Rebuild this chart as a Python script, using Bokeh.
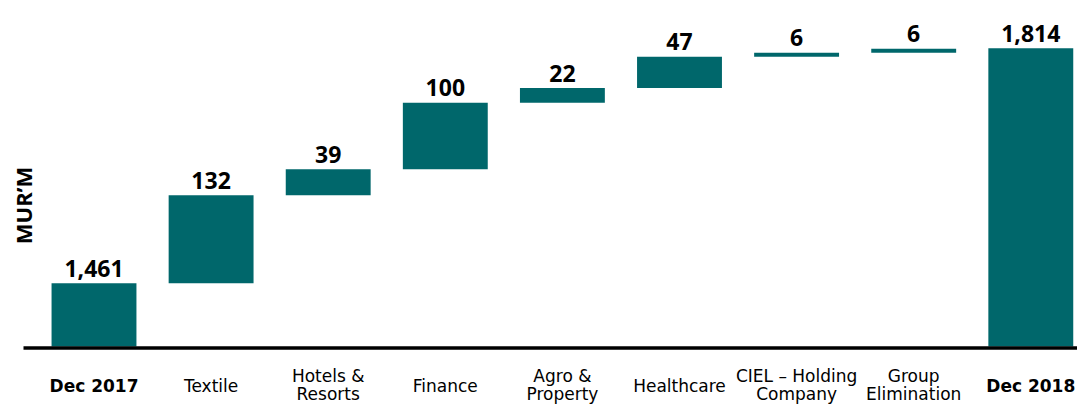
from bokeh.plotting import figure
from bokeh.models import ColumnDataSource, Range1d
from bokeh.core.properties import value
from bokeh.embed import file_html
from bokeh.resources import INLINE
import math

# ---- data ----
categories = ["Dec 2017", "Textile", "Hotels &\nResorts", "Finance", "Agro &\nProperty",
              "Healthcare", "CIEL – Holding\nCompany", "Group\nElimination", "Dec 2018"]
values = [1461, 132, 39, 100, 22, 47, 6, 6, 1814]
is_total = [True, False, False, False, False, False, False, False, True]
y_axis_title = "MUR’M"

# ---- layout helpers (pixel mapping of the reference) ----
W, H = 1077, 408
Y_BASE = 1366.0          # value at which the axis line sits
PY = 0.666               # px per unit
PX = 117.1               # px per category
X0 = 93.5                # x of first category centre (px)
AXIS_Y = 346.0           # px from top where bars start
TEXT_SHIFT = 7.0         # compensation for text baseline placement (px)
x_start = -X0 / PX
x_end = x_start + W / PX
y_end = Y_BASE + AXIS_Y / PY
y_start = Y_BASE - (H - AXIS_Y) / PY

def y_at(sy):
    return Y_BASE + (AXIS_Y - sy) / PY

def x_at(sx):
    return (sx - X0) / PX

# waterfall geometry
bottoms, tops = [], []
running = 0
for v, t in zip(values, is_total):
    if t:
        bottoms.append(Y_BASE)
        tops.append(v)
        running = v
    else:
        bottoms.append(running)
        tops.append(running + v)
        running += v

xs = list(range(len(categories)))
bar_src = ColumnDataSource(dict(x=xs, bottom=bottoms, top=tops,
                                label_y=[t + (8.0 + TEXT_SHIFT) / PY for t in tops],
                                label=[f"{v:,}" for v in values]))

p = figure(width=W, height=H, output_backend="svg", toolbar_location=None,
           x_range=Range1d(x_start, x_end), y_range=Range1d(y_start, y_end),
           min_border=0, min_border_left=0, min_border_right=0,
           min_border_top=0, min_border_bottom=0)
p.axis.visible = False
p.grid.visible = False
p.outline_line_color = None
p.background_fill_color = "white"
p.border_fill_color = "white"

TEAL = "#00676B"
p.vbar(x="x", bottom="bottom", top="top", width=0.725, source=bar_src,
       fill_color=TEAL, line_color=None)

# value labels
p.text(x="x", y="label_y", text="label", source=bar_src, text_align="center",
       text_baseline="alphabetic", text_font=value("Open Sans"),
       text_font_style="bold", text_font_size="23px", text_color="#000000")

# axis line
p.segment(x0=[x_at(23)], y0=[y_at(347.5)], x1=[x_end], y1=[y_at(347.5)],
          line_color="#000000", line_width=3.5)

# category labels
single = dict(x=[], text=[], style=[])
top_line = dict(x=[], text=[])
bot_line = dict(x=[], text=[])
for i, (c, t) in enumerate(zip(categories, is_total)):
    parts = c.split("\n")
    if len(parts) == 1:
        single["x"].append(i)
        single["text"].append(c)
        single["style"].append("bold" if t else "normal")
    else:
        top_line["x"].append(i)
        top_line["text"].append(parts[0])
        bot_line["x"].append(i)
        bot_line["text"].append(parts[1])

single["y"] = [y_at(392 - TEXT_SHIFT)] * len(single["x"])
top_line["y"] = [y_at(382 - TEXT_SHIFT)] * len(top_line["x"])
bot_line["y"] = [y_at(400 - TEXT_SHIFT)] * len(bot_line["x"])

p.text(x="x", y="y", text="text", text_font_style="style", source=ColumnDataSource(single),
       text_align="center", text_baseline="alphabetic", text_font=value("DejaVu Sans"),
       text_font_size="17px", text_color="#000000")
for d in (top_line, bot_line):
    p.text(x="x", y="y", text="text", source=ColumnDataSource(d),
           text_align="center", text_baseline="alphabetic", text_font=value("DejaVu Sans"),
           text_font_size="17px", text_color="#000000")

# y axis title
p.text(x=[x_at(22)], y=[y_at(205)], text=[y_axis_title], angle=math.pi / 2,
       text_align="center", text_baseline="middle", text_font=value("Open Sans"),
       text_font_style="bold", text_font_size="22px", text_color="#000000")

open("out.html", "w").write(file_html(p, INLINE))
